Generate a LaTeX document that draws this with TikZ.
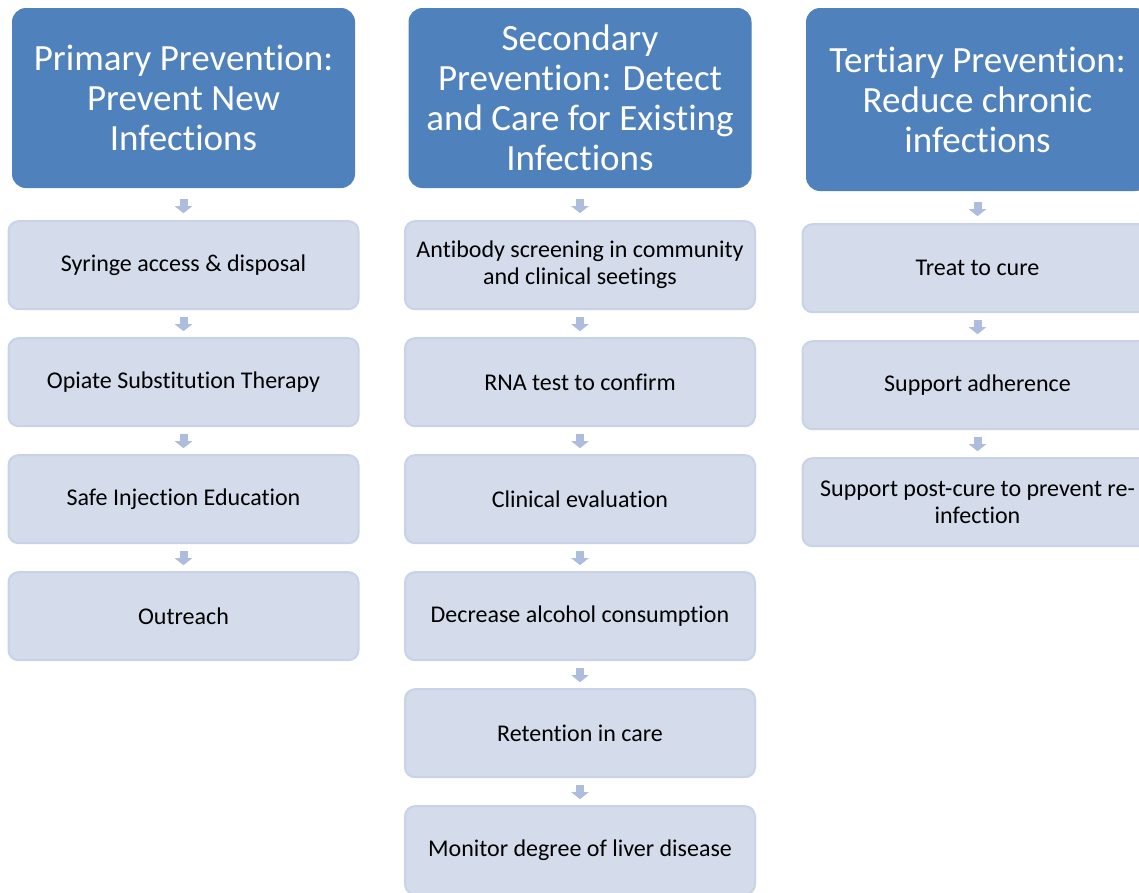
\documentclass[tikz,border=0pt]{standalone}
\usepackage{fontspec}
\setmainfont{Carlito}[Ligatures={NoCommon,NoContextual}]
\usetikzlibrary{arrows.meta, positioning}

\definecolor{headblue}{RGB}{79,129,189}
\definecolor{stepfill}{RGB}{212,219,235}
\definecolor{stepline}{RGB}{201,211,231}
\definecolor{flowblue}{RGB}{172,189,221}

\begin{document}
\begin{tikzpicture}[
    x=1pt, y=1pt,
    node distance=27pt,
    header/.style={
        rectangle, rounded corners=14pt,
        fill=headblue, text=white,
        minimum width=343pt, minimum height=180pt,
        align=center, inner sep=0pt,
        font=\fontsize{37}{40}\selectfont
    },
    stepbox/.style={
        rectangle, rounded corners=10pt,
        draw=stepline, line width=2pt, fill=stepfill,
        minimum width=350pt, minimum height=88pt,
        align=center,
        font=\fontsize{24}{27}\selectfont
    },
    flow/.style={line width=8pt, draw=flowblue,
        -{Triangle[width=17pt, length=7pt]},
        shorten <=7pt, shorten >=6pt},
    topflow/.style={flow, shorten <=11pt, shorten >=7pt}
]
\useasboundingbox (0,0) rectangle (1139,-892);

% ── Primary Prevention ──
\node[header] (prim) at (183.5,-98) {Primary Prevention:\\Prevent New\\Infections};
\node[stepbox, below=32pt of prim] (syringe) {Syringe access \& disposal};
\node[stepbox, below=of syringe] (opiate) {Opiate Substitution Therapy};
\node[stepbox, below=of opiate] (safeinj) {Safe Injection Education};
\node[stepbox, below=of safeinj] (outreach) {Outreach};

\draw[topflow] (prim) -- (syringe);
\draw[flow] (syringe) -- (opiate);
\draw[flow] (opiate) -- (safeinj);
\draw[flow] (safeinj) -- (outreach);

% ── Secondary Prevention ──
\node[header] (sec) at (580,-98) {Secondary\\Prevention: Detect\\and Care for Existing\\Infections};
\node[stepbox, below=32pt of sec] (antibody) {Antibody screening in community\\and clinical seetings};
\node[stepbox, below=of antibody] (rna) {RNA test to confirm};
\node[stepbox, below=of rna] (clinical) {Clinical evaluation};
\node[stepbox, below=of clinical] (alcohol) {Decrease alcohol consumption};
\node[stepbox, below=of alcohol] (retention) {Retention in care};
\node[stepbox, below=of retention] (liver) {Monitor degree of liver disease};

\draw[topflow] (sec) -- (antibody);
\draw[flow] (antibody) -- (rna);
\draw[flow] (rna) -- (clinical);
\draw[flow] (clinical) -- (alcohol);
\draw[flow] (alcohol) -- (retention);
\draw[flow] (retention) -- (liver);

% ── Tertiary Prevention ──
\node[header, minimum height=183pt] (tert) at (977.5,-99.5) {Tertiary Prevention:\\Reduce chronic\\infections};
\node[stepbox, below=32pt of tert] (cure) {Treat to cure};
\node[stepbox, below=of cure] (adhere) {Support adherence};
\node[stepbox, below=of adhere] (postcure) {Support post-cure to prevent re-\\infection};

\draw[topflow] (tert) -- (cure);
\draw[flow] (cure) -- (adhere);
\draw[flow] (adhere) -- (postcure);

\end{tikzpicture}
\end{document}
